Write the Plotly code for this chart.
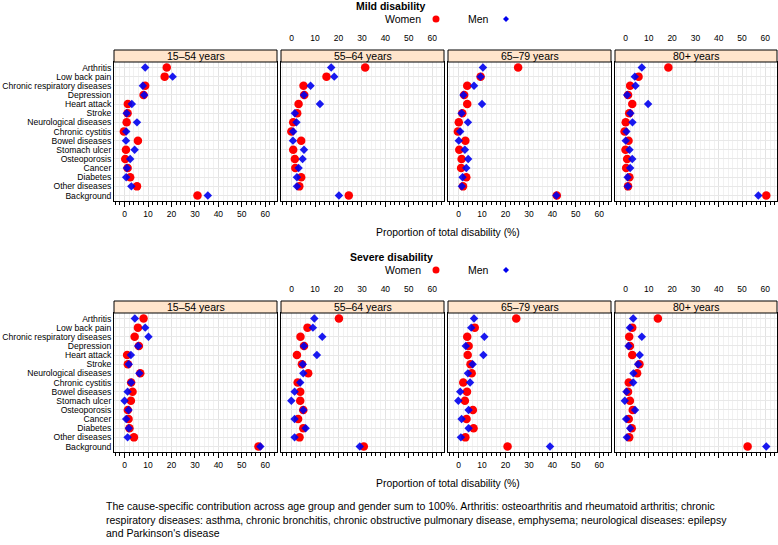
import plotly.graph_objects as go

W, H = 778, 545

categories = ["Arthritis", "Low back pain", "Chronic respiratory diseases", "Depression",
              "Heart attack", "Stroke", "Neurological diseases", "Chronic cystitis",
              "Bowel diseases", "Stomach ulcer", "Osteoporosis", "Cancer", "Diabetes",
              "Other diseases", "Background"]
age_groups = ["15–54 years", "55–64 years", "65–79 years", "80+ years"]
tick_values = [0, 10, 20, 30, 40, 50, 60]

# Mild disability
mild_women_1554 = [18.0, 17.1, 8.8, 8.1, 1.4, 1.3, 0.9, -0.3, 5.7, 0.6, 0.3, 1.3, 2.4, 5.3, 31.1]
mild_men_1554 = [8.8, 20.5, 7.8, 8.4, 3.1, 0.9, 5.3, 0.7, 0.6, 4.3, 2.4, 1.0, 0.7, 2.9, 35.5]
mild_women_5564 = [31.4, 14.9, 5.1, 5.4, 3.0, 2.4, 0.7, -0.1, 4.1, 0.7, 1.4, 1.6, 4.1, 3.3, 24.4]
mild_men_5564 = [16.9, 18.2, 8.1, 5.3, 12.1, 1.4, 2.1, 0.7, 0.6, 5.3, 4.7, 3.0, 2.3, 2.3, 20.2]
mild_women_6579 = [25.4, 9.4, 3.7, 2.4, 3.7, 1.6, 0.1, -0.3, 2.9, 0.3, 1.3, 1.1, 3.3, 1.9, 41.9]
mild_men_6579 = [10.4, 9.4, 6.6, 2.1, 10.0, 1.3, 4.0, 0.7, 0.1, 2.7, 4.1, 3.3, 1.7, 1.4, 41.7]
mild_women_80 = [18.4, 5.6, 2.0, 1.1, 2.9, 1.6, 0.1, -0.4, 1.3, 0.0, 0.7, 0.3, 1.7, 1.1, 60.4]
mild_men_80 = [7.0, 4.0, 4.3, 0.7, 9.7, 2.1, 3.0, 0.4, 0.1, 1.7, 2.9, 2.0, 0.9, 1.0, 57.0]

# Severe disability
severe_women_1554 = [8.1, 5.7, 4.3, 6.1, 1.1, 1.4, 6.7, 2.8, 3.4, 2.7, 1.4, 1.7, 2.1, 4.0, 57.1]
severe_men_1554 = [4.4, 8.8, 10.2, 5.8, 2.7, 1.8, 6.3, 2.8, 1.3, 0.0, 1.7, 0.7, 1.8, 1.3, 57.9]
severe_women_5564 = [20.2, 6.8, 3.8, 5.3, 2.3, 4.4, 7.1, 2.6, 3.7, 3.7, 5.0, 2.8, 5.0, 3.4, 30.8]
severe_men_5564 = [9.7, 9.1, 13.1, 5.3, 10.8, 4.8, 5.0, 3.7, 1.3, -0.1, 5.0, 1.3, 6.0, 1.3, 29.1]
severe_women_6579 = [24.6, 6.9, 3.7, 4.3, 3.9, 5.1, 5.6, 2.0, 3.6, 2.7, 6.1, 3.4, 6.4, 2.9, 20.9]
severe_men_6579 = [6.6, 5.4, 11.0, 3.1, 10.6, 6.0, 4.0, 4.9, 0.7, -0.1, 4.3, 1.3, 4.3, 1.0, 39.0]
severe_women_80 = [13.9, 2.9, 1.6, 1.9, 2.9, 6.0, 5.0, 1.4, 1.1, 1.9, 3.1, 1.4, 2.7, 1.6, 52.4]
severe_men_80 = [3.3, 1.9, 7.0, 1.3, 6.1, 5.4, 3.4, 3.3, 0.4, -0.3, 4.1, 0.3, 2.0, 0.6, 60.4]

mild_women = [mild_women_1554, mild_women_5564, mild_women_6579, mild_women_80]
mild_men = [mild_men_1554, mild_men_5564, mild_men_6579, mild_men_80]
severe_women = [severe_women_1554, severe_women_5564, severe_women_6579, severe_women_80]
severe_men = [severe_men_1554, severe_men_5564, severe_men_6579, severe_men_80]

blocks = [("Mild disability", mild_women, mild_men), ("Severe disability", severe_women, severe_men)]

FONT = "Liberation Sans, Arial, sans-serif"
RED = "#ff0000"
BLUE = "#0000ee"
STRIP = "#ffe5cc"

def fx(px):
    return px / W

def fy(py):
    return 1 - py / H

panel_x = [(114, 277), (281, 444), (448, 611), (615, 777)]
# per block: (title_y, legend_y, toptick_y, strip_top, plot_top, plot_bottom, xlabel_y)
block_geo = [(6, 19, 43, 50, 62, 201, 232), (257, 270, 294, 301, 313, 452, 483)]
xrange_ = [-4.5, 65]

fig = go.Figure()
layout = dict(width=W, height=H, margin=dict(l=0, r=0, t=0, b=0),
              paper_bgcolor="white", plot_bgcolor="white", showlegend=False,
              font=dict(family=FONT, size=8, color="black"))
shapes = []
annotations = []

extra = 9
for b, (title, women, men) in enumerate(blocks):
    ty, ly, tty, st, pt, pb, xly = block_geo[b]
    for p in range(4):
        idx = b * 4 + p + 1
        xn = "x" if idx == 1 else f"x{idx}"
        yn = "y" if idx == 1 else f"y{idx}"
        l, r = panel_x[p]
        fig.add_trace(go.Scatter(x=women[p], y=categories, mode="markers", xaxis=xn, yaxis=yn,
                                 name="Women", marker=dict(symbol="circle", size=8.5, color=RED),
                                 hoverinfo="x+y"))
        fig.add_trace(go.Scatter(x=men[p], y=categories, mode="markers", xaxis=xn, yaxis=yn,
                                 name="Men", marker=dict(symbol="diamond", size=6.5, color=BLUE, opacity=0.9),
                                 hoverinfo="x+y"))
        xa = dict(domain=[fx(l), fx(r)], anchor=yn, range=xrange_, tickvals=tick_values,
                  showgrid=True, gridcolor="#e3e3e3", gridwidth=1, zeroline=False,
                  ticks="outside", ticklen=5, tickcolor="black", tickwidth=1,
                  minor=dict(dtick=2, tick0=0, ticks="outside", ticklen=3, tickcolor="black",
                             showgrid=True, gridcolor="#f1f1f1"),
                  showline=True, linecolor="black", linewidth=1, mirror=True,
                  showticklabels=(p in (0, 2)), tickfont=dict(size=8.5), fixedrange=True)
        ya = dict(domain=[fy(pb), fy(pt)], anchor=xn, type="category", categoryorder="array",
                  categoryarray=categories, tickmode="array", tickvals=categories, ticktext=categories,
                  range=[14.6, -0.6], showgrid=True, gridcolor="#e8e8e8",
                  ticks="", showline=True, linecolor="black", linewidth=1, mirror=True,
                  showticklabels=(p == 0), tickfont=dict(size=8.6), zeroline=False, fixedrange=True)
        layout["xaxis" if idx == 1 else f"xaxis{idx}"] = xa
        layout["yaxis" if idx == 1 else f"yaxis{idx}"] = ya
        if p in (1, 3):
            xtop = f"x{extra}"
            layout[f"xaxis{extra}"] = dict(overlaying=xn, side="top", anchor="free", position=fy(tty),
                                           range=xrange_, tickvals=tick_values, showgrid=False,
                                           showline=False, zeroline=False, ticks="",
                                           tickfont=dict(size=8.5), fixedrange=True)
            # invisible copy of the women series so the top-label axis is drawn
            fig.add_trace(go.Scatter(x=women[p], y=categories, mode="markers", xaxis=xtop, yaxis=yn,
                                     marker=dict(opacity=0), hoverinfo="skip", showlegend=False))
            extra += 1
        # strip
        shapes.append(dict(type="rect", xref="paper", yref="paper", x0=fx(l), x1=fx(r),
                           y0=fy(pt), y1=fy(st), fillcolor=STRIP, line=dict(color="black", width=1),
                           layer="above"))
        annotations.append(dict(text=age_groups[p], xref="paper", yref="paper",
                                x=fx((l + r) / 2), y=fy((st + pt) / 2), showarrow=False,
                                font=dict(size=10.5), xanchor="center", yanchor="middle"))
    # title
    annotations.append(dict(text=f"<b>{title}</b>", xref="paper", yref="paper", x=fx(391), y=fy(ty),
                            showarrow=False, font=dict(size=10.5), xanchor="center", yanchor="middle"))
    # legend
    annotations.append(dict(text="Women", xref="paper", yref="paper", x=fx(423), y=fy(ly),
                            showarrow=False, font=dict(size=10.5), xanchor="right", yanchor="middle"))
    shapes.append(dict(type="circle", xref="paper", yref="paper", x0=fx(432.5), x1=fx(439.5),
                       y0=fy(ly + 3.5), y1=fy(ly - 3.5), fillcolor=RED, line=dict(width=0)))
    annotations.append(dict(text="Men", xref="paper", yref="paper", x=fx(491), y=fy(ly),
                            showarrow=False, font=dict(size=10.5), xanchor="right", yanchor="middle"))
    cx, cy = 506, ly
    shapes.append(dict(type="path", xref="paper", yref="paper",
                       path=f"M {fx(cx-3)} {fy(cy)} L {fx(cx)} {fy(cy-3)} L {fx(cx+3)} {fy(cy)} L {fx(cx)} {fy(cy+3)} Z",
                       fillcolor=BLUE, line=dict(width=0)))
    # x-axis title
    annotations.append(dict(text="Proportion of total disability (%)", xref="paper", yref="paper",
                            x=fx(448), y=fy(xly), showarrow=False, font=dict(size=10.4),
                            xanchor="center", yanchor="middle"))

annotations.append(dict(
    text=("The cause-specific contribution across age group and gender sum to 100%. Arthritis: osteoarthritis and rheumatoid arthritis; chronic<br>"
          "respiratory diseases: asthma, chronic bronchitis, chronic obstructive pulmonary disease, emphysema; neurological diseases: epilepsy<br>"
          "and Parkinson's disease"),
    xref="paper", yref="paper", x=fx(104), y=fy(498), showarrow=False, align="left",
    xanchor="left", yanchor="top", font=dict(size=10.5)))

layout["shapes"] = shapes
layout["annotations"] = annotations
fig.update_layout(**layout)
fig.write_html("out.html", config={"displayModeBar": False},
               post_script="document.body.style.margin='0';document.body.style.overflow='hidden';")
